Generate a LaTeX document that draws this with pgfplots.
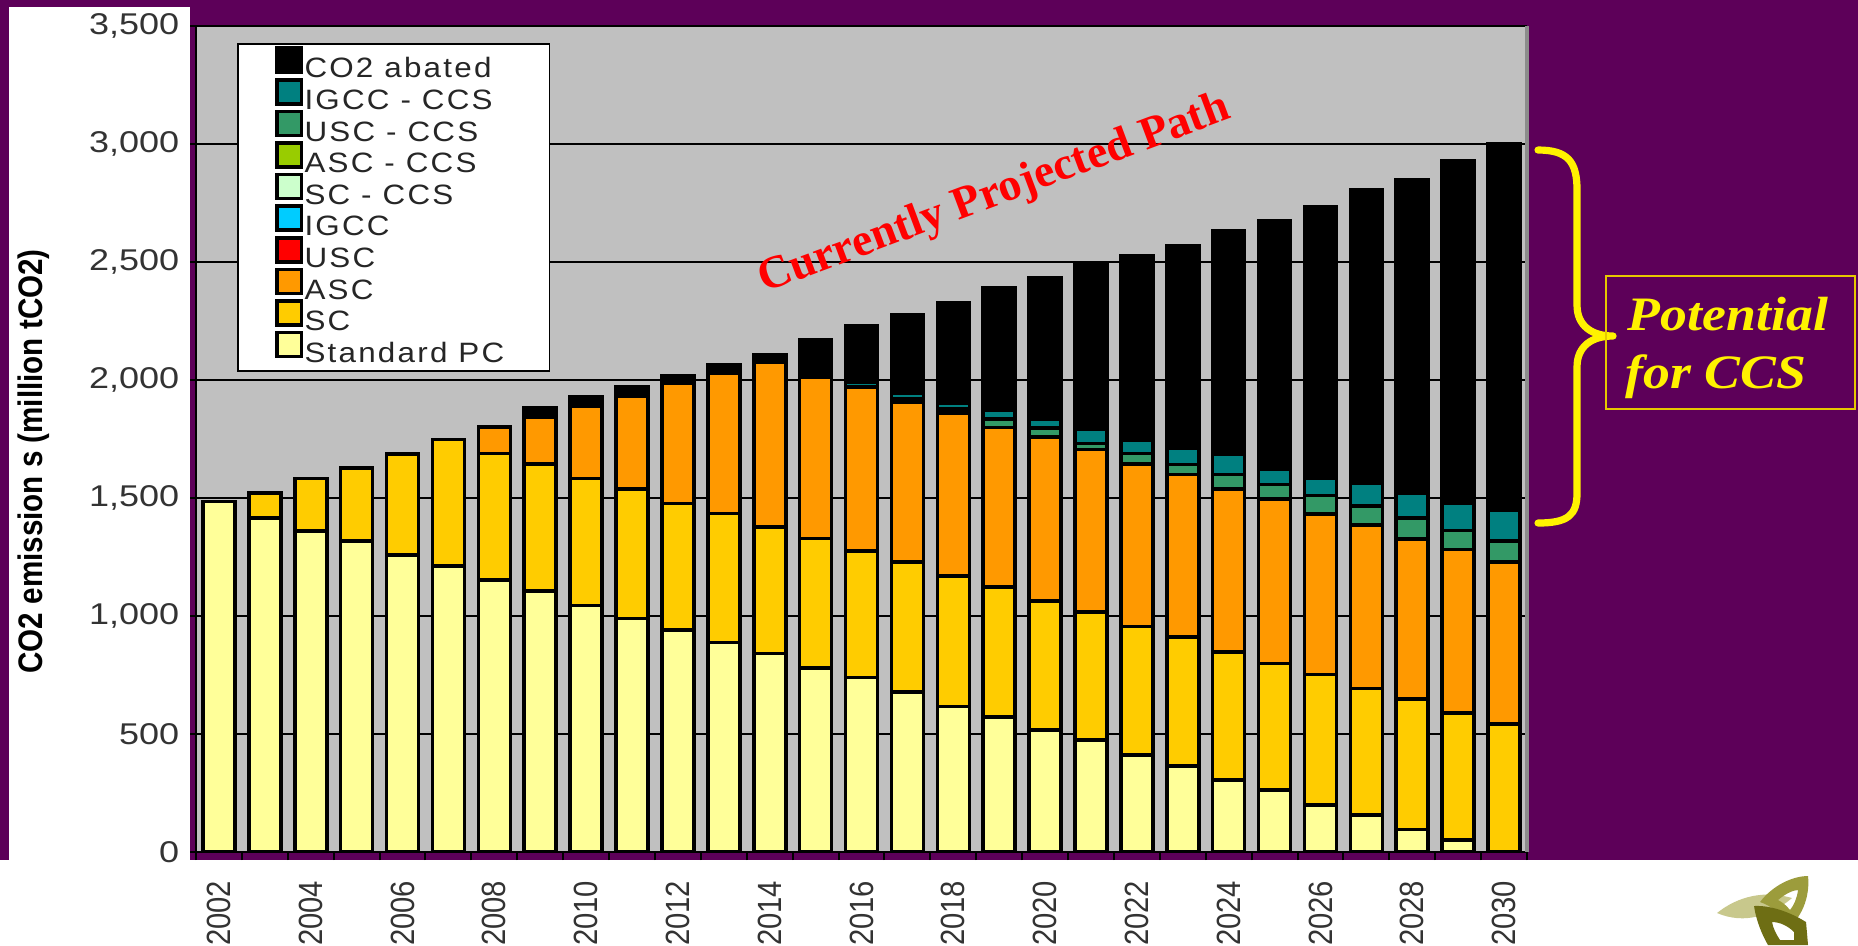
\documentclass[border=0pt]{standalone}
\usepackage{graphicx}
\usepackage{pgfplots}
\pgfplotsset{compat=1.18}
\usepackage{pgfplotstable}
\usepackage{fontspec}
\setmainfont{Liberation Sans}
\newfontfamily\chartfont[FakeStretch=1.2]{Liberation Sans}
\newfontfamily\legendfont[FakeStretch=1.12, LetterSpace=8]{Liberation Sans}
\newfontfamily\slidefont{Liberation Serif}
\newfontfamily\boxfont[FakeStretch=1.12]{Liberation Serif}

\definecolor{slidepurple}{RGB}{93,0,89}
\definecolor{plotgray}{RGB}{192,192,192}
\definecolor{cPC}{RGB}{255,255,153}
\definecolor{cSC}{RGB}{255,204,0}
\definecolor{cASC}{RGB}{255,153,0}
\definecolor{cUSC}{RGB}{255,0,0}
\definecolor{cIGCC}{RGB}{0,204,255}
\definecolor{cSCCCS}{RGB}{204,255,204}
\definecolor{cASCCCS}{RGB}{153,204,0}
\definecolor{cUSCCCS}{RGB}{51,153,102}
\definecolor{cIGCCCCS}{RGB}{0,128,128}
\definecolor{cAbated}{RGB}{0,0,0}
\definecolor{boxgold}{RGB}{230,200,0}
\definecolor{oliveA}{RGB}{200,200,140}
\definecolor{oliveB}{RGB}{156,156,60}
\definecolor{oliveC}{RGB}{110,110,20}

% CO2 emissions of coal power by technology, million tCO2
\pgfplotstableread{
year pc   sc  asc usc igcc sccs ascccs uscccs igccccs abated
2002 1485 0   0   0   0    0    0      0      0       0
2003 1416 106 0   0   0    0    0      0      0       0
2004 1361 222 0   0   0    0    0      0      0       0
2005 1318 308 0   0   0    0    0      0      0       0
2006 1258 428 0   0   0    0    0      0      0       0
2007 1213 535 0   0   0    0    0      0      0       0
2008 1152 537 113 0   0    0    0      0      0       0
2009 1107 537 197 0   0    0    0      0      0       42
2010 1044 538 305 0   0    0    0      0      0       42
2011 990  547 395 0   0    0    0      0      0       40
2012 941  536 510 0   0    0    0      0      0       30
2013 888  547 595 0   0    0    0      0      0       33
2014 841  535 698 0   0    0    0      0      0       34
2015 781  547 683 0   0    0    0      0      0       158
2016 739  537 695 0   0    0    0      0      18      241
2017 677  553 675 0   0    0    0      15     26      329
2018 616  553 691 0   0    0    0      17     25      427
2019 573  551 675 0   0    0    0      37     38      517
2020 517  546 695 0   0    0    0      40     36      601
2021 475  543 687 0   0    0    0      26     60      696
2022 411  544 688 0   0    0    0      45     58      779
2023 365  547 688 0   0    0    0      42     69      858
2024 305  543 690 0   0    0    0      62     86      945
2025 263  536 696 0   0    0    0      62     66      1052
2026 199  553 681 0   0    0    0      77     75      1149
2027 157  536 693 0   0    0    0      81     96      1242
2028 96   552 679 0   0    0    0      88     105     1330
2029 51   537 694 0   0    0    0      80     116     1450
2030 0    542 686 0   0    0    0      91     131     1550
}\emissions

\newcommand\yr[1]{\scalebox{1}[1.15]{#1}}
\newcommand\legtext[2][1.4pt]{\makebox[52pt][l]{#2}\rule[-#1]{0pt}{1pt}}

\begin{document}
\begin{tikzpicture}
% slide background
\begin{scope}[x=0.25pt,y=-0.25pt]
\path[use as bounding box] (0,0) rectangle (1858,945);
\fill[slidepurple] (0,0) rectangle (1858,945);
\fill[white] (9,7) rectangle (190,860);
\fill[white] (0,860) rectangle (1858,945);
\end{scope}

\begin{axis}[
  at={(49pt,-213pt)}, anchor=south west,
  scale only axis, width=332.75pt, height=206.5pt,
  xmin=2001.5, xmax=2030.5, ymin=0, ymax=3500,
  enlargelimits=false,
  ybar stacked, bar width=8pt,
  axis background/.style={fill=plotgray},
  axis lines*=left,
  axis line style={black, line width=0.5pt},
  ymajorgrids, major grid style={black, line width=0.5pt},
  tick align=outside,
  major tick length=1.5pt, minor tick length=2pt,
  tick style={black, line width=0.5pt},
  every major x tick/.append style={draw=none},
  xtick={2002,2004,...,2030},
  minor xtick={2001.5,2002.5,...,2030.5},
  xticklabels={\yr{2002},\yr{2004},\yr{2006},\yr{2008},\yr{2010},\yr{2012},\yr{2014},\yr{2016},\yr{2018},\yr{2020},\yr{2022},\yr{2024},\yr{2026},\yr{2028},\yr{2030}},
  xticklabel style={font=\fontsize{7.3}{8}\selectfont, text=black!80, rotate=90, anchor=east, inner sep=0pt},
  xticklabel shift=5.5pt,
  ytick={0,500,...,3500},
  yticklabels={0,500,{1,000},{1,500},{2,000},{2,500},{3,000},{3,500}},
  yticklabel style={font=\chartfont\fontsize{7.5}{8}\selectfont, text=black!80, inner sep=0pt},
  yticklabel shift=2.5pt,
  ylabel={\scalebox{1}[1.15]{CO2 emission s (million tCO2)}},
  ylabel style={font=\bfseries\fontsize{7.4}{8}\selectfont, at={(axis description cs:-0.1217,0.473)}, anchor=center},
  legend style={
    at={(axis description cs:0,1)}, anchor=north west, xshift=10.25pt, yshift=-4.25pt,
    fill=white, draw=black, line width=0.45pt,
    font=\legendfont\fontsize{7}{8}\selectfont, text=black!85,
    inner xsep=9.25pt, inner ysep=0.6pt,
    row sep=-1.5pt, column sep=0.3pt,
    nodes={inner sep=0pt, text height=5.6pt},
  },
  legend cell align=left, reverse legend,
  every axis plot/.append style={draw=black, line width=0.9pt,
    legend image code/.code={\draw[##1, draw=black, line width=0.9pt] (0pt,-0.6pt) rectangle (6.2pt,5.4pt);}},
]
\addplot[fill=cPC]      table[x=year,y=pc]      {\emissions}; \addlegendentry{\legtext[3.6pt]{Standard PC}}
\addplot[fill=cSC]      table[x=year,y=sc]      {\emissions}; \addlegendentry{\legtext{SC}}
\addplot[fill=cASC]     table[x=year,y=asc]     {\emissions}; \addlegendentry{\legtext{ASC}}
\addplot[fill=cUSC]     table[x=year,y=usc]     {\emissions}; \addlegendentry{\legtext{USC}}
\addplot[fill=cIGCC]    table[x=year,y=igcc]    {\emissions}; \addlegendentry{\legtext{IGCC}}
\addplot[fill=cSCCCS]   table[x=year,y=sccs]    {\emissions}; \addlegendentry{\legtext{SC - CCS}}
\addplot[fill=cASCCCS]  table[x=year,y=ascccs]  {\emissions}; \addlegendentry{\legtext{ASC - CCS}}
\addplot[fill=cUSCCCS]  table[x=year,y=uscccs]  {\emissions}; \addlegendentry{\legtext{USC - CCS}}
\addplot[fill=cIGCCCCS] table[x=year,y=igccccs] {\emissions}; \addlegendentry{\legtext{IGCC - CCS}}
\addplot[fill=cAbated]  table[x=year,y=abated]  {\emissions}; \addlegendentry{\legtext{CO2 abated}}
\end{axis}

% annotations on the slide
\begin{scope}[x=0.25pt,y=-0.25pt]
\draw[color=black!45, line width=1pt] (1527,26) -- (1527,852);
\node[rotate=20.5, anchor=base west, text=red, inner sep=0pt,
      font=\slidefont\bfseries\fontsize{11.5}{13}\selectfont] at (764,293) {Currently Projected Path};
\draw[yellow, line width=1.8pt, line cap=round, line join=round]
  (1538,150) .. controls (1568,150) and (1577,162) .. (1577,190) -- (1577,305)
  .. controls (1577,326) and (1592,336) .. (1613,336)
  .. controls (1592,336) and (1577,346) .. (1577,367) -- (1577,493)
  .. controls (1577,515) and (1568,523) .. (1538,523);
\draw[boxgold, line width=0.5pt] (1606,276) rectangle (1855,409);
\node[anchor=base west, text=yellow, inner sep=0pt,
      font=\boxfont\bfseries\itshape\fontsize{12}{15}\selectfont] at (1627,330) {Potential};
\node[anchor=base west, text=yellow, inner sep=0pt,
      font=\boxfont\bfseries\itshape\fontsize{12}{15}\selectfont] at (1625,388) {for CCS};
% logo
\fill[oliveA] (1717,913) .. controls (1738,896) and (1765,890) .. (1792,898)
  .. controls (1772,915) and (1745,925) .. (1717,913) -- cycle;
\fill[oliveB, even odd rule]
  (1760,902) .. controls (1772,886) and (1792,876) .. (1808,876)
  .. controls (1810,895) and (1803,915) .. (1790,926)
  .. controls (1782,915) and (1772,906) .. (1760,902) -- cycle
  (1778,900) .. controls (1786,893) and (1794,890) .. (1798,890)
  .. controls (1797,898) and (1794,905) .. (1790,910)
  .. controls (1786,905) and (1782,902) .. (1778,900) -- cycle;
\fill[oliveC, even odd rule]
  (1754,906) .. controls (1770,905) and (1790,912) .. (1806,922)
  -- (1808,945) -- (1768,945)
  .. controls (1762,935) and (1756,920) .. (1754,906) -- cycle
  (1772,922) .. controls (1780,922) and (1788,926) .. (1794,932)
  -- (1794,940) -- (1780,940) .. controls (1776,934) and (1773,928) .. (1772,922) -- cycle;
\end{scope}
\end{tikzpicture}
\end{document}
